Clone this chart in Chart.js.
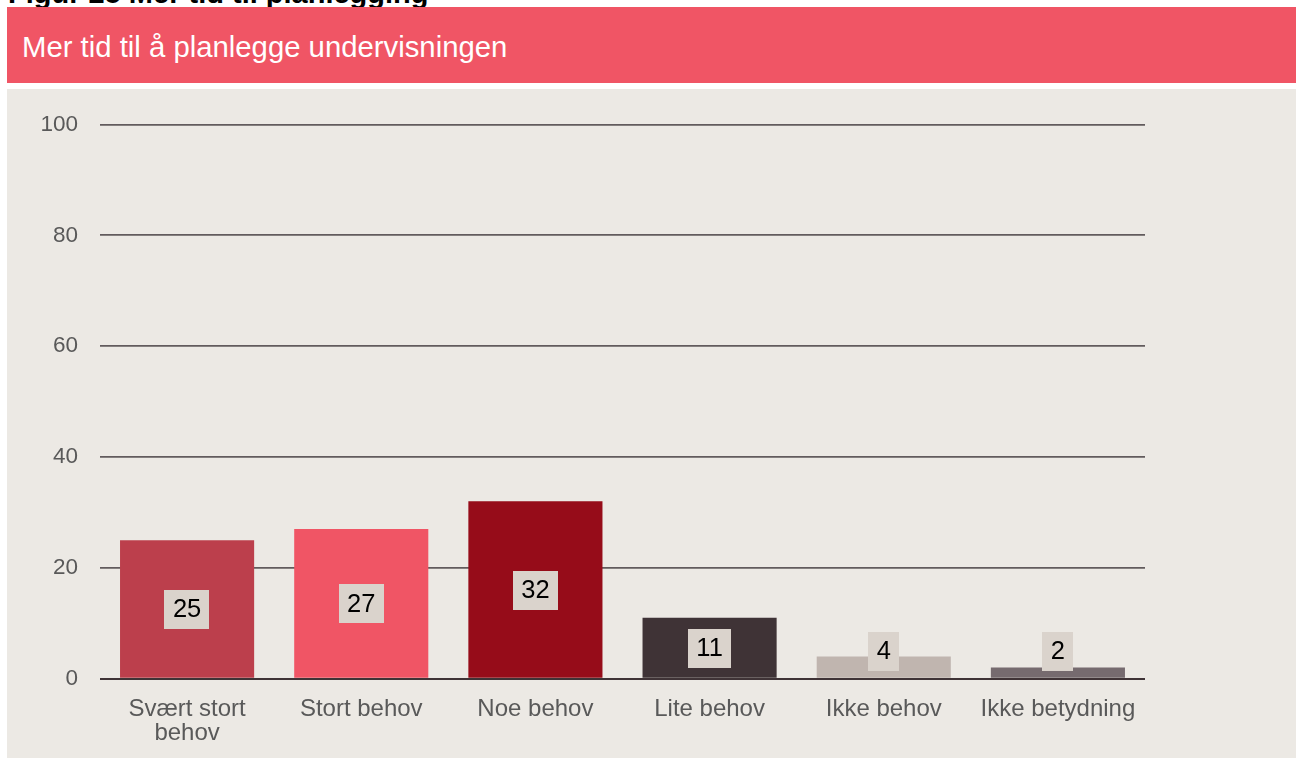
<!DOCTYPE html>
<html>
<head>
<meta charset="utf-8">
<script src="https://cdn.jsdelivr.net/npm/chart.js@4.4.1/dist/chart.umd.min.js"></script>
<style>
  html, body { margin: 0; padding: 0; background: #ffffff; width: 1296px; height: 758px; overflow: hidden; position: relative; font-family: "Liberation Sans", Arial, sans-serif; }
  #fig { position: absolute; left: 8px; top: -21px; font-size: 29px; line-height: 1; font-weight: bold; color: #000; white-space: nowrap; }
  #header { position: absolute; left: 7px; top: 7px; width: 1289px; height: 76px; background: #F05565; }
  #header span { position: absolute; left: 15px; top: 24.5px; font-size: 29.3px; color: #ffffff; line-height: 1; white-space: nowrap; }
  #panel { position: absolute; left: 7px; top: 89px; width: 1289px; height: 669px; background: #ECE9E4; }
  #wrap { position: absolute; left: 8px; top: 89px; width: 1288px; height: 669px; }
</style>
</head>
<body>
<div id="fig">Figur 25 Mer tid til planlegging</div>
<div id="header"><span>Mer tid til å planlegge undervisningen</span></div>
<div id="panel"></div>
<div id="wrap"><canvas id="c" width="1288" height="669"></canvas></div>
<script>
const categories = [["Svært stort", "behov"], "Stort behov", "Noe behov", "Lite behov", "Ikke behov", "Ikke betydning"];
const values = [25, 27, 32, 11, 4, 2];
const barColors = ["#BC3F4C", "#F05565", "#960C19", "#3F3336", "#C0B5AF", "#766B6F"];
const yTicks = [0, 20, 40, 60, 80, 100];

const valueLabels = {
  id: 'valueLabels',
  afterDatasetsDraw(chart) {
    const ctx = chart.ctx;
    const meta = chart.getDatasetMeta(0);
    const zeroY = chart.scales.y.getPixelForValue(0);
    ctx.save();
    ctx.font = '25.5px "Liberation Sans", Arial, sans-serif';
    ctx.textAlign = 'center';
    ctx.textBaseline = 'middle';
    meta.data.forEach((bar, i) => {
      const txt = String(values[i]);
      const w = ctx.measureText(txt).width + 17;
      const h = 39;
      const mid = (bar.y + zeroY) / 2;
      const cy = Math.min(mid, zeroY - 27.5);
      ctx.fillStyle = '#DAD3CC';
      ctx.fillRect(Math.round(bar.x - w / 2), Math.round(cy - h / 2), Math.round(w), h);
      ctx.fillStyle = '#000000';
      ctx.fillText(txt, bar.x, cy + 1);
    });
    ctx.restore();
  }
};

new Chart(document.getElementById('c'), {
  type: 'bar',
  data: {
    labels: categories,
    datasets: [{
      data: values,
      backgroundColor: barColors,
      borderWidth: 0,
      barPercentage: 0.77,
      categoryPercentage: 1.0
    }]
  },
  options: {
    responsive: false,
    animation: false,
    devicePixelRatio: 1,
    layout: { padding: { left: 0, right: 151, top: 33.5, bottom: 0 } },
    plugins: { legend: { display: false }, tooltip: { enabled: false } },
    scales: {
      x: {
        grid: { display: false, drawTicks: false },
        border: { display: false },
        ticks: {
          color: '#595959',
          font: { size: 24, family: '"Liberation Sans", Arial, sans-serif', lineHeight: 1.0 },
          padding: 19,
          maxRotation: 0,
          autoSkip: false
        },
        afterFit(scale) { scale.height = 79.3; }
      },
      y: {
        min: 0,
        max: 100,
        afterBuildTicks(scale) { scale.ticks = yTicks.map(v => ({ value: v })); },
        grid: {
          drawTicks: false,
          color: (c) => c.tick && c.tick.value === 0 ? '#3F3336' : '#625B5D',
          lineWidth: (c) => c.tick && c.tick.value === 0 ? 2 : 1.7
        },
        border: { display: false },
        ticks: {
          color: '#595959',
          font: { size: 22.5, family: '"Liberation Sans", Arial, sans-serif' },
          padding: 22
        },
        afterFit(scale) { scale.width = 92; }
      }
    }
  },
  plugins: [valueLabels]
});
</script>
</body>
</html>
